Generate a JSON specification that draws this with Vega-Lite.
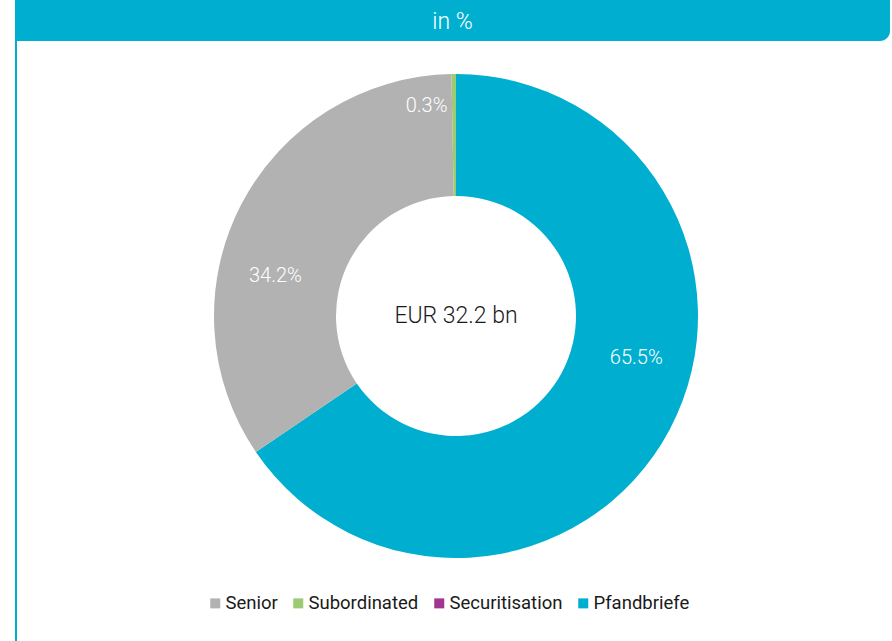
{
  "$schema": "https://vega.github.io/schema/vega-lite/v6.json",
  "padding": {"left": 15, "top": 0, "right": 0, "bottom": 0},
  "background": "white",
  "spacing": 0,
  "config": {
    "view": {"stroke": null},
    "font": "Roboto"
  },
  "datasets": {
    "shares": [
      {"category": "Pfandbriefe", "share": 0.655, "ord": 1},
      {"category": "Senior", "share": 0.342, "ord": 2},
      {"category": "Securitisation", "share": 0.0, "ord": 3},
      {"category": "Subordinated", "share": 0.003, "ord": 4}
    ]
  },
  "vconcat": [
    {
      "width": 875,
      "height": 41,
      "data": {"values": [{"title": "in %"}]},
      "layer": [
        {"mark": {"type": "rect", "color": "#00AFD0", "cornerRadiusBottomRight": 10}},
        {
          "mark": {"type": "text", "color": "white", "fontSize": 23, "font": "Roboto", "fontWeight": 300, "dy": 1},
          "encoding": {"text": {"field": "title"}}
        }
      ]
    },
    {
      "spacing": 0,
      "hconcat": [
        {
          "width": 2,
          "height": 610,
          "data": {"values": [{"k": 1}]},
          "mark": {"type": "rect", "color": "#00AFD0"}
        },
        {
          "width": 878,
          "height": 550,
          "data": {"name": "shares"},
          "layer": [
            {
              "mark": {"type": "arc", "radius": 242, "innerRadius": 120},
              "encoding": {
                "theta": {"field": "share", "type": "quantitative", "stack": true},
                "order": {"field": "ord", "type": "quantitative"},
                "color": {
                  "field": "category",
                  "type": "nominal",
                  "scale": {
                    "domain": ["Senior", "Subordinated", "Securitisation", "Pfandbriefe"],
                    "range": ["#B2B2B2", "#9DCB74", "#A2358F", "#00AFD0"]
                  },
                  "legend": {
                    "orient": "none",
                    "legendX": 191,
                    "legendY": 594,
                    "direction": "horizontal",
                    "title": null,
                    "symbolType": "square",
                    "symbolSize": 100,
                    "symbolStrokeWidth": 0,
                    "symbolOpacity": 1,
                    "labelFontSize": 18.5,
                    "labelColor": "#1a1a1a",
                    "labelFont": "Roboto",
                    "columnPadding": 11,
                    "symbolOffset": 0,
                    "labelOffset": 1
                  }
                }
              }
            },
            {
              "mark": {"type": "text", "radius": 185, "thetaOffset": -0.26, "color": "white", "fontSize": 20, "font": "Roboto", "fontWeight": 300},
              "encoding": {
                "theta": {"field": "share", "type": "quantitative", "stack": true},
                "order": {"field": "ord", "type": "quantitative"},
                "text": {
                  "condition": {"test": "datum.share >= 0.01", "field": "share", "type": "quantitative", "format": ".1%"},
                  "value": ""
                }
              }
            },
            {
              "mark": {"type": "text", "radius": 212, "thetaOffset": -0.13, "color": "white", "fontSize": 20, "font": "Roboto", "fontWeight": 300},
              "encoding": {
                "theta": {"field": "share", "type": "quantitative", "stack": true},
                "order": {"field": "ord", "type": "quantitative"},
                "text": {
                  "condition": {"test": "datum.share > 0 && datum.share < 0.01", "field": "share", "type": "quantitative", "format": ".1%"},
                  "value": ""
                }
              }
            },
            {
              "data": {"values": [{"t": "EUR 32.2 bn"}]},
              "mark": {"type": "text", "color": "#1a1a1a", "fontSize": 23, "font": "Roboto", "fontWeight": 300},
              "encoding": {"text": {"field": "t"}}
            }
          ]
        }
      ]
    }
  ]
}
